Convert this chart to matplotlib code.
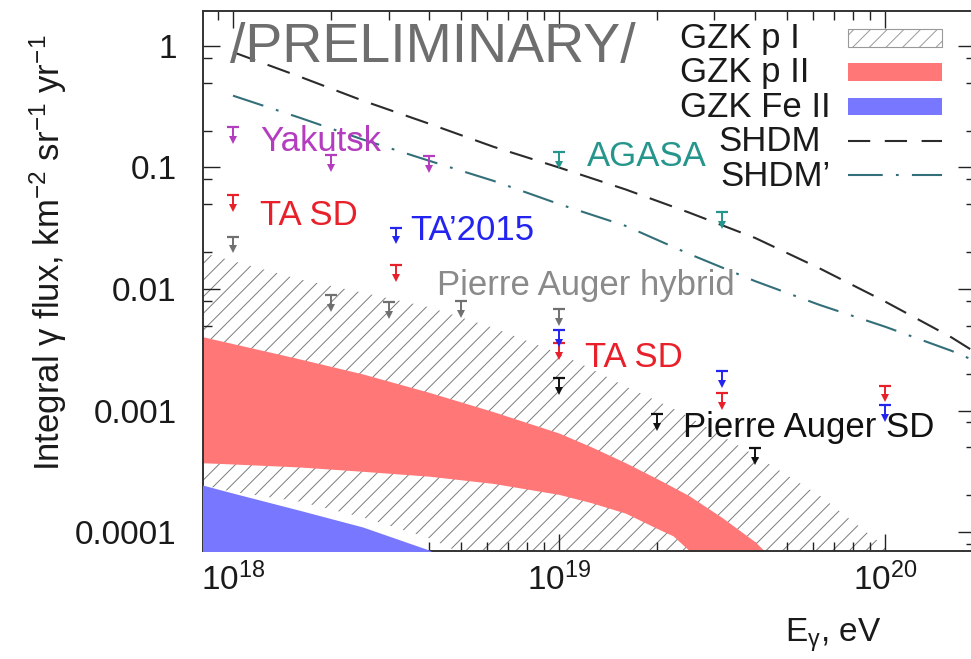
import numpy as np
import matplotlib
matplotlib.use('Agg')
import matplotlib.pyplot as plt
from matplotlib.ticker import FixedLocator, NullFormatter, LogLocator
from matplotlib.patches import Rectangle
from matplotlib.lines import Line2D

plt.rcParams['font.family'] = ['Liberation Sans', 'DejaVu Sans']
plt.rcParams['mathtext.fontset'] = 'custom'
plt.rcParams['mathtext.rm'] = 'Liberation Sans'
plt.rcParams['mathtext.it'] = 'Liberation Sans:italic'
plt.rcParams['mathtext.bf'] = 'Liberation Sans:bold'
plt.rcParams['lines.scale_dashes'] = False
plt.rcParams['hatch.linewidth'] = 0.7

# ---------------- data ----------------
# upper limits on integral photon flux (km^-2 sr^-1 yr^-1) vs E (eV)
yakutsk_E = [1e18, 2e18, 4e18]
yakutsk_F = [0.215, 0.127, 0.124]
ta_sd_E = [1e18, 3.16e18, 1e19, 3.16e19, 1e20]
ta_sd_F = [0.059, 0.0158, 0.0036, 0.0014, 0.0016]
ta2015_E = [3.16e18, 1e19, 3.16e19, 1e20]
ta2015_F = [0.032, 0.0046, 0.0021, 0.0011]
auger_hybrid_E = [1e18, 2e18, 3e18, 5e18, 1e19]
auger_hybrid_F = [0.027, 0.0089, 0.0078, 0.0080, 0.0068]
auger_sd_E = [1e19, 2e19, 4e19]
auger_sd_F = [0.00185, 0.00094, 0.00049]
agasa_E = [1e19, 3.16e19]
agasa_F = [0.134, 0.043]

# model predictions
shdm_E = [1e18, 1.6e18, 2.5e18, 4e18, 6.3e18, 1e19, 1.6e19, 2.5e19, 4e19, 6.3e19, 1e20, 1.6e20, 2e20]
shdm_F = [0.89, 0.56, 0.355, 0.229, 0.148, 0.100, 0.066, 0.0427, 0.0263, 0.0148, 0.0079, 0.0040, 0.00275]
shdm2_E = [1e18, 1.6e18, 2.5e18, 4e18, 6.3e18, 1e19, 1.6e19, 2.5e19, 4e19, 6.3e19, 1e20, 1.6e20, 2e20]
shdm2_F = [0.39, 0.257, 0.17, 0.1135, 0.0776, 0.050, 0.0331, 0.0195, 0.0116, 0.0074, 0.0049, 0.0031, 0.0024]

band_E = [8.0e17, 1.0e18, 1.6e18, 2.5e18, 4.0e18, 6.3e18, 1.0e19, 1.26e19, 1.6e19, 2.0e19,
          2.24e19, 2.5e19, 3.16e19, 4.0e19, 6.3e19, 1.0e20, 1.2e20]
gzk_p1_high = [0.0200, 0.0170, 0.0120, 0.00933, 0.00708, 0.00479, 0.00295, 0.00219, 0.00158, 0.00120,
               0.00104, 0.00089, 0.000617, 0.000427, 0.000200, 7.6e-5, 4.5e-5]
gzk_p1_low = [2.45e-4, 2.14e-4, 1.78e-4, 1.32e-4, 8.9e-5, 5.0e-5, 2e-5, 1e-6, 1e-6, 1e-6,
              1e-6, 1e-6, 1e-6, 1e-6, 1e-6, 1e-6, 1e-6]
gzk_p2_high = [0.00407, 0.00355, 0.00266, 0.00200, 0.00141, 0.000977, 0.000653, 0.000501, 0.000372, 0.000275,
               0.000234, 0.000200, 0.000132, 8.3e-5, 2.5e-5, 5e-6, 2.5e-6]
gzk_p2_low = [3.72e-4, 3.63e-4, 3.43e-4, 3.16e-4, 2.88e-4, 2.51e-4, 2.04e-4, 1.74e-4, 1.43e-4, 1.07e-4,
              9.3e-5, 7.1e-5, 3.2e-5, 1.4e-5, 1e-6, 1e-6, 1e-6]
gzk_fe_high = [2.45e-4, 2.09e-4, 1.51e-4, 1.10e-4, 7.1e-5, 3.2e-5, 1e-5, 1e-6, 1e-6, 1e-6,
               1e-6, 1e-6, 1e-6, 1e-6, 1e-6, 1e-6, 1e-6]
gzk_fe_low = [1e-7] * 17

xtick_values = [1e18, 1e19, 1e20]
xtick_labels = [r'$\mathregular{10^{18}}$', r'$\mathregular{10^{19}}$', r'$\mathregular{10^{20}}$']
ytick_values = [1e-4, 1e-3, 1e-2, 1e-1, 1]
ytick_labels = ['0.0001', '0.001', '0.01', '0.1', '1']

# ---------------- figure ----------------
W, H = 971, 659
fig = plt.figure(figsize=(W / 100, H / 100), dpi=100)
L, R, T, B = 203, 975, 11, 551
ax = fig.add_axes([L / W, (H - B) / H, (R - L) / W, (B - T) / H])
ax.set_xscale('log')
ax.set_yscale('log')
ax.set_xlim(8.09e17, 1.89e20)
ax.set_ylim(6.98e-5, 1.94)

def afx(px):
    return (px - L) / (R - L)

def afy(py):
    return (B - py) / (B - T)

# bands
ax.fill_between(band_E, gzk_p1_low, gzk_p1_high, facecolor='white', edgecolor='#7c7c7c',
                hatch='//', linewidth=0, zorder=1)
ax.fill_between(band_E, gzk_p2_low, gzk_p2_high, color='#FF7777', linewidth=0, zorder=2)
ax.fill_between(band_E, gzk_fe_low, gzk_fe_high, color='#7777FF', linewidth=0, zorder=3)

# model lines
ax.plot(shdm_E, shdm_F, color='#2b2b2b', lw=1.5, dashes=(17, 9.5), zorder=4)
ax.plot(shdm2_E, shdm2_F, color='#336f79', lw=1.5, dashes=(23, 9.5, 2, 9.5), zorder=4)

# upper-limit markers
def upper_limits(E, F, color):
    E = np.asarray(E, float)
    F = np.asarray(F, float)
    head = F * 10 ** (-0.105)
    ax.vlines(E, head, F, color=color, lw=1.4, zorder=5)
    ax.plot(E, F, ls='none', marker='_', ms=9, mew=1.6, color=color, zorder=5)
    ax.plot(E, head, ls='none', marker='v', ms=6, mew=0, color=color, zorder=5)

upper_limits(yakutsk_E, yakutsk_F, '#B43CBE')
upper_limits(ta_sd_E, ta_sd_F, '#E8202A')
upper_limits(ta2015_E, ta2015_F, '#2424F0')
upper_limits(auger_hybrid_E, auger_hybrid_F, '#707070')
upper_limits(auger_sd_E, auger_sd_F, '#111111')
upper_limits(agasa_E, agasa_F, '#26968C')

# labels inside the plot
fs = 25
ax.text(9.8e17, 0.738, '/PRELIMINARY/', fontsize=40, color='#6E6E6E', va='baseline', zorder=6)
ax.text(1.21e18, 0.137, 'Yakutsk', fontsize=fs, color='#B43CBE', va='baseline', zorder=6)
ax.text(1.21e18, 0.0336, 'TA SD', fontsize=fs, color='#E8202A', va='baseline', zorder=6)
ax.text(3.49e18, 0.0253, 'TA\u20192015', fontsize=fs, color='#2424F0', va='baseline', zorder=6)
ax.text(4.23e18, 0.00893, 'Pierre Auger hybrid', fontsize=fs, color='#8A8A8A', va='baseline', zorder=6)
ax.text(1.22e19, 0.103, 'AGASA', fontsize=fs, color='#26968C', va='baseline', zorder=6)
ax.text(1.20e19, 0.00228, 'TA SD', fontsize=fs, color='#E8202A', va='baseline', zorder=6)
ax.text(2.40e19, 0.000605, 'Pierre Auger SD', fontsize=fs, color='#111111', va='baseline', zorder=6)

# legend (drawn manually, text left of key)
kx0, kx1 = afx(848), afx(942)
ax.add_patch(Rectangle((kx0, afy(47)), kx1 - kx0, afy(29) - afy(47), transform=ax.transAxes,
                       facecolor='white', edgecolor='#999999', hatch='//', lw=0.8, zorder=6))
ax.add_patch(Rectangle((kx0, afy(81)), kx1 - kx0, afy(63) - afy(81), transform=ax.transAxes,
                       facecolor='#FF7777', lw=0, zorder=6))
ax.add_patch(Rectangle((kx0, afy(115)), kx1 - kx0, afy(98) - afy(115), transform=ax.transAxes,
                       facecolor='#7777FF', lw=0, zorder=6))
ax.add_line(Line2D([kx0, kx1], [afy(141), afy(141)], transform=ax.transAxes, color='#2b2b2b',
                   lw=1.5, dashes=(16, 10.5), zorder=6))
ax.add_line(Line2D([kx0, kx1], [afy(175), afy(175)], transform=ax.transAxes, color='#336f79',
                   lw=1.5, dashes=(25, 9.5, 2, 9.5), zorder=6))
legend_items = [('GZK p I', 680, 48), ('GZK p II', 680, 82), ('GZK Fe II', 680, 117),
                ('SHDM', 718, 151), ('SHDM\u2019', 720, 186)]
for lab, px, py in legend_items:
    ax.text(afx(px), afy(py), lab, transform=ax.transAxes, fontsize=fs, color='#1a1a1a',
            va='baseline', ha='left', zorder=6)

# axes / ticks
ax.xaxis.set_major_locator(FixedLocator(xtick_values))
ax.set_xticklabels(xtick_labels)
ax.xaxis.set_minor_locator(LogLocator(base=10, subs=np.arange(2, 10), numticks=30))
ax.xaxis.set_minor_formatter(NullFormatter())
ax.yaxis.set_major_locator(FixedLocator(ytick_values))
ax.set_yticklabels(ytick_labels)
ax.yaxis.set_minor_locator(LogLocator(base=10, subs=(2, 5, 8), numticks=30))
ax.yaxis.set_minor_formatter(NullFormatter())
ax.tick_params(which='both', direction='in', top=True, right=True, width=1.0, color='#222222',
               labelsize=24, labelcolor='#1a1a1a')
ax.tick_params(which='major', length=12.5)
ax.tick_params(which='minor', length=6.5)
ax.tick_params(axis='x', pad=8)
ax.tick_params(axis='y', pad=19)
for s in ax.spines.values():
    s.set_linewidth(1.4)
    s.set_color('#333333')

fig.text(48 / W, 1 - 253 / H, r'Integral γ flux, km$^{\mathregular{-2}}$ sr$^{\mathregular{-1}}$ yr$^{\mathregular{-1}}$',
         rotation=90, ha='center', va='center', fontsize=25, color='#1a1a1a')
fig.text(833 / W, 1 - 642 / H, r'E$_{\mathregular{γ}}$, eV', ha='center', va='baseline',
         fontsize=24, color='#1a1a1a')

fig.savefig('out.png', dpi=100)
